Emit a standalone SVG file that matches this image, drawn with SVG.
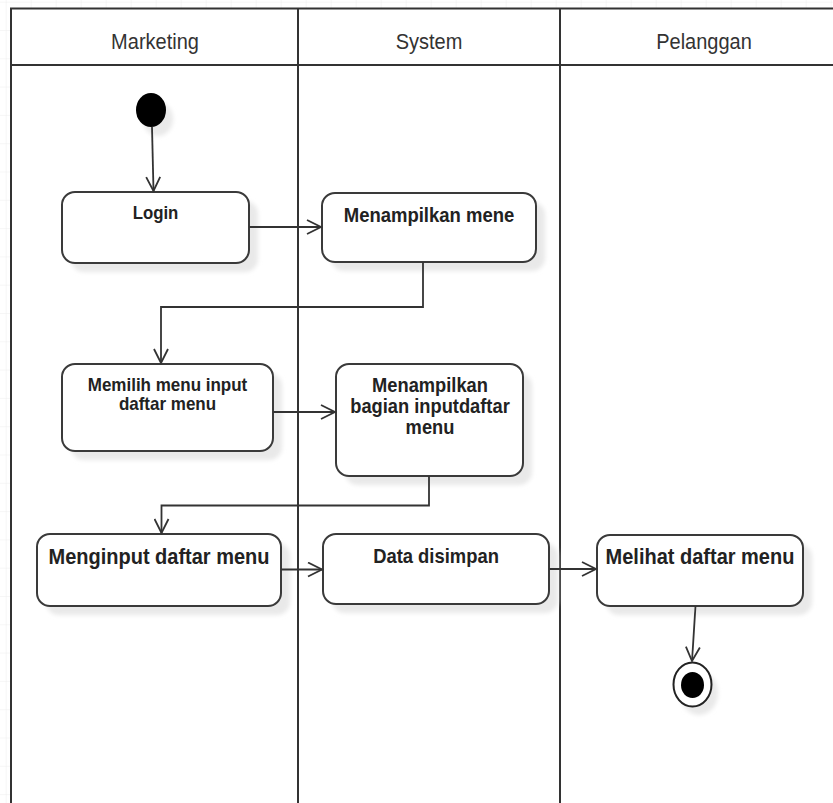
<svg xmlns="http://www.w3.org/2000/svg" width="833" height="803" viewBox="0 0 833 803">
  <style>
    .lane { fill: none; stroke: #333; stroke-width: 2; }
    .hdr { font-family: "Liberation Sans", Arial, sans-serif; font-size: 20px; fill: #333; text-anchor: middle; }
    .box { fill: #fff; stroke: #3a3a3a; stroke-width: 2; }
    .sh { fill: #e9e9e9; filter: url(#blur); }
    .lbl { font-family: "Liberation Sans", Arial, sans-serif; font-weight: bold; fill: #222; text-anchor: middle; }
    .edge { fill: none; stroke: #333; stroke-width: 1.8; marker-end: url(#arr); }
  </style>
  <defs>
    <pattern id="grid" patternUnits="userSpaceOnUse" x="5.7" y="1.7" width="25" height="28.3">
      <path d="M0,0 V28.3 M0,0 H25" fill="none" stroke="#ededed" stroke-width="1"/>
    </pattern>
    <filter id="blur" x="-20%" y="-20%" width="140%" height="140%">
      <feGaussianBlur stdDeviation="2"/>
    </filter>
    <marker id="arr" markerUnits="userSpaceOnUse" viewBox="0 0 18 16" markerWidth="18" markerHeight="16" refX="15" refY="8" orient="auto">
      <path d="M1,1 L15,8 L1,15" fill="none" stroke="#333" stroke-width="1.8"/>
    </marker>
  </defs>

  <rect x="0" y="0" width="833" height="803" fill="#fff"/>
  <rect x="0" y="0" width="833" height="803" fill="url(#grid)"/>

  <g id="swimlanes">
    <rect x="11" y="8.5" width="840" height="800" fill="#fff"/>
    <path class="lane" d="M11,810 V8.5 H840 M11,65 H840 M298,8.5 V810 M560,8.5 V810"/>
    <text class="hdr" transform="translate(155,48.5) scale(1,1.13)">Marketing</text>
    <text class="hdr" transform="translate(429,48.5) scale(1,1.13)">System</text>
    <text class="hdr" transform="translate(704,48.5) scale(1,1.13)">Pelanggan</text>
  </g>

  <g id="start">
    <ellipse class="sh" cx="158" cy="119" rx="15" ry="17"/>
    <ellipse cx="151" cy="110" rx="15" ry="17" fill="#000"/>
  </g>

  <g id="login">
    <rect class="sh" x="71" y="201" width="187" height="71" rx="13"/>
    <rect class="box" x="62" y="192" width="187" height="71" rx="13"/>
    <text class="lbl" font-size="16.8" transform="translate(155.5,219) scale(1,1.13)">Login</text>
  </g>

  <g id="menampilkan-mene">
    <rect class="sh" x="331" y="202" width="214" height="69" rx="13"/>
    <rect class="box" x="322" y="193" width="214" height="69" rx="13"/>
    <text class="lbl" font-size="18.5" transform="translate(429,222) scale(1,1.13)">Menampilkan mene</text>
  </g>

  <g id="memilih-menu">
    <rect class="sh" x="71" y="373" width="211" height="87" rx="13"/>
    <rect class="box" x="62" y="364" width="211" height="87" rx="13"/>
    <text class="lbl" font-size="17" transform="translate(167.5,391) scale(1,1.1)">Memilih menu input</text>
    <text class="lbl" font-size="17" transform="translate(167.5,410) scale(1,1.1)">daftar menu</text>
  </g>

  <g id="menampilkan-bagian">
    <rect class="sh" x="345" y="373" width="187" height="112" rx="13"/>
    <rect class="box" x="336" y="364" width="187" height="112" rx="13"/>
    <text class="lbl" font-size="18.3" transform="translate(430,392) scale(1,1.08)">Menampilkan</text>
    <text class="lbl" font-size="18.3" transform="translate(430,413) scale(1,1.08)">bagian inputdaftar</text>
    <text class="lbl" font-size="18.3" transform="translate(430,433.5) scale(1,1.08)">menu</text>
  </g>

  <g id="menginput">
    <rect class="sh" x="46" y="543" width="244" height="72" rx="13"/>
    <rect class="box" x="37" y="534" width="244" height="72" rx="13"/>
    <text class="lbl" font-size="20" transform="translate(159,564) scale(1,1.13)">Menginput daftar menu</text>
  </g>

  <g id="data-disimpan">
    <rect class="sh" x="332" y="543" width="226" height="70" rx="13"/>
    <rect class="box" x="323" y="534" width="226" height="70" rx="13"/>
    <text class="lbl" font-size="18.4" transform="translate(436,563) scale(1,1.13)">Data disimpan</text>
  </g>

  <g id="melihat">
    <rect class="sh" x="606" y="544" width="206" height="71" rx="13"/>
    <rect class="box" x="597" y="535" width="206" height="71" rx="13"/>
    <text class="lbl" font-size="20" transform="translate(700,564) scale(1,1.13)">Melihat daftar menu</text>
  </g>

  <g id="end">
    <ellipse class="sh" cx="699" cy="693" rx="19" ry="22"/>
    <ellipse cx="692.5" cy="684.5" rx="19" ry="22" fill="#fff" stroke="#222" stroke-width="2"/>
    <ellipse cx="692.5" cy="685" rx="11.5" ry="13" fill="#000"/>
  </g>

  <g id="connectors">
    <path class="edge" d="M152,127 L153.5,191"/>
    <path class="edge" d="M249,227 H321"/>
    <path class="edge" d="M423,262 V307 H161 V363"/>
    <path class="edge" d="M273,412 H335"/>
    <path class="edge" d="M429,476 V505.5 H161.5 V533"/>
    <path class="edge" d="M281,569.5 H322"/>
    <path class="edge" d="M549,569 H596"/>
    <path class="edge" d="M695.5,606 L692,661"/>
  </g>
</svg>
